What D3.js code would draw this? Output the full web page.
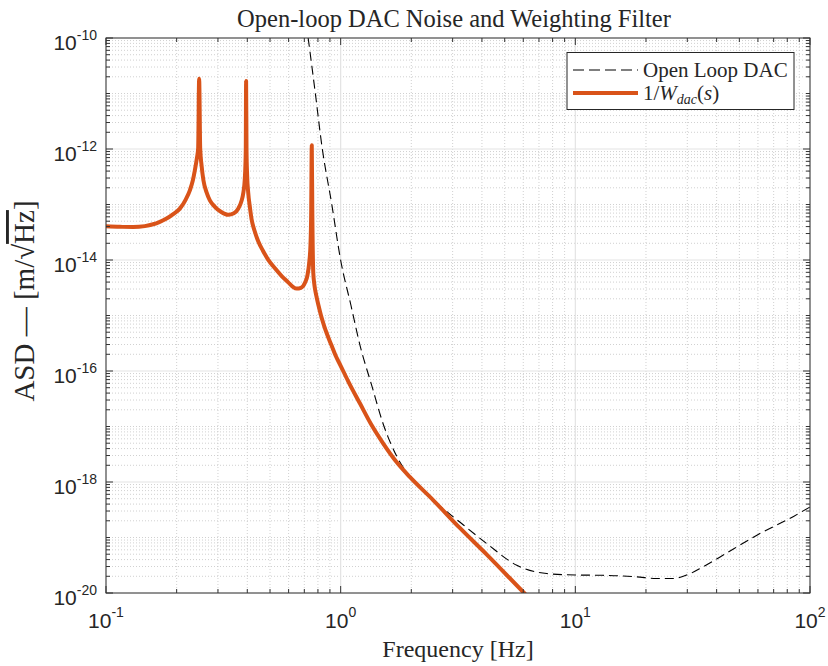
<!DOCTYPE html>
<html>
<head>
<meta charset="utf-8">
<title>Open-loop DAC Noise and Weighting Filter</title>
<script src="https://d3js.org/d3.v7.min.js"></script>
<style>
  body { margin: 0; background: #fff; }
  svg { display: block; }
</style>
</head>
<body>
<div id="chart"></div>
<script>
// open loop DAC noise (dashed)
const dacFreq = [0.70, 0.7274, 0.777, 0.8347, 0.9154, 1.0, 1.106, 1.209, 1.356, 1.519, 1.734, 1.975,
                 2.483, 3.227, 4.195, 5.63, 7.55, 9.99, 12.5, 15.5, 18.3, 22.2, 25.8, 30.9, 34.6,
                 41.4, 59.4, 85.1, 100];
const dacAsd = [3.16e-10, 9.75e-11, 1.14e-11, 1.02e-12, 1.04e-13, 9.9e-15, 1.53e-15, 2.90e-16, 5.52e-17,
                1.10e-17, 2.90e-18, 1.22e-18, 4.68e-19, 1.88e-19, 7.76e-20, 3.16e-20, 2.24e-20, 2.11e-20,
                2.09e-20, 2.04e-20, 1.95e-20, 1.82e-20, 1.82e-20, 2.24e-20, 2.88e-20, 4.47e-20, 1.10e-19,
                2.40e-19, 3.55e-19];

// 1/W_dac(s) (orange)
const wFreq = [0.1, 0.1145, 0.1305, 0.1464, 0.1588, 0.1696, 0.1811, 0.1927, 0.2064, 0.2189, 0.2277,
               0.2345, 0.2391, 0.2439, 0.2470, 0.2494, 0.2520, 0.2554, 0.2601, 0.2683, 0.2771, 0.2911,
               0.3088, 0.3317, 0.3507, 0.3659, 0.3776, 0.3851, 0.3900, 0.3927, 0.3942, 0.3954, 0.3970,
               0.3994, 0.4036, 0.4104, 0.4173, 0.4289, 0.4453, 0.4664, 0.4898, 0.5248, 0.5619, 0.5976,
               0.6260, 0.6491, 0.6771, 0.7045, 0.7219, 0.7348, 0.7435, 0.7486, 0.7531, 0.7574, 0.7642,
               0.7732, 0.7869, 0.8042, 0.8240, 0.8487, 0.8784, 0.9137, 0.9502, 1.0, 1.077, 1.209,
               1.356, 1.519, 1.734, 1.975, 2.483, 3.227, 4.195, 6.05, 7.43];
const wAsd = [4.05e-14, 3.96e-14, 3.94e-14, 4.08e-14, 4.40e-14, 4.88e-14, 5.57e-14, 6.65e-14, 8.43e-14,
              1.24e-13, 1.80e-13, 2.73e-13, 4.13e-13, 6.79e-13, 1.03e-12, 1.85e-11, 1.03e-12, 5.08e-13,
              2.73e-13, 1.66e-13, 1.19e-13, 9.10e-14, 7.39e-14, 6.52e-14, 6.93e-14, 8.38e-14, 1.14e-13,
              1.66e-13, 2.73e-13, 5.08e-13, 1.03e-12, 1.68e-11, 9.48e-13, 3.36e-13, 1.66e-13, 8.91e-14,
              5.41e-14, 3.43e-14, 2.17e-14, 1.47e-14, 1.03e-14, 7.08e-15, 5.08e-15, 3.96e-15, 3.29e-15,
              3.05e-15, 3.15e-15, 3.88e-15, 5.30e-15, 9.10e-15, 1.84e-14, 6.38e-14, 1.17e-12, 6.38e-14,
              6.00e-15, 3.50e-15, 2.31e-15, 1.53e-15, 1.01e-15, 6.65e-16, 4.40e-16, 2.90e-16, 1.92e-16,
              1.24e-16, 6.52e-17, 2.59e-17, 1.05e-17, 4.92e-18, 2.26e-18, 1.22e-18, 4.68e-19, 1.47e-19,
              4.92e-20, 1.0e-20, 4.13e-21];

const xTickExp = [-1, 0, 1, 2];
const yTickExp = [-20, -18, -16, -14, -12, -10];
const legendNames = ["Open Loop DAC", "1/W_dac(s)"];

const W = 828, H = 666;
const margin = {top: 38, right: 18, bottom: 73, left: 106};
const orange = "#D95319";
const serif = '"Liberation Serif", "DejaVu Serif", serif';
const sans = '"Liberation Sans", Arial, sans-serif';

const svg = d3.select("#chart").append("svg")
    .attr("width", W).attr("height", H);

const x = d3.scaleLog().domain([0.1, 100]).range([margin.left, W - margin.right]);
const y = d3.scaleLog().domain([1e-20, 1e-10]).range([H - margin.bottom, margin.top]);

const isPow = v => Math.abs(Math.log10(v) - Math.round(Math.log10(v))) < 1e-6;
const isMajorY = v => isPow(v) && Math.round(Math.log10(v)) % 2 === 0;

const x0 = x.range()[0], x1 = x.range()[1];
const y0 = y.range()[1], y1 = y.range()[0];

// grid
const xt = x.ticks();
const yt = y.ticks(60);
const grid = svg.append("g");

grid.selectAll(".xminor").data(xt.filter(v => !isPow(v))).enter().append("line")
    .attr("x1", d => x(d)).attr("x2", d => x(d)).attr("y1", y0).attr("y2", y1)
    .attr("stroke", "#c4c4c4").attr("stroke-width", 0.8).attr("stroke-dasharray", "1,2");
grid.selectAll(".yminor").data(yt.filter(v => !isMajorY(v))).enter().append("line")
    .attr("x1", x0).attr("x2", x1).attr("y1", d => y(d)).attr("y2", d => y(d))
    .attr("stroke", "#c4c4c4").attr("stroke-width", 0.8).attr("stroke-dasharray", "1,2");
grid.selectAll(".xmajor").data(xt.filter(isPow)).enter().append("line")
    .attr("x1", d => x(d)).attr("x2", d => x(d)).attr("y1", y0).attr("y2", y1)
    .attr("stroke", "#e3e3e3").attr("stroke-width", 1.2);
grid.selectAll(".ymajor").data(yt.filter(isMajorY)).enter().append("line")
    .attr("x1", x0).attr("x2", x1).attr("y1", d => y(d)).attr("y2", d => y(d))
    .attr("stroke", "#e3e3e3").attr("stroke-width", 1.2);

// curves
svg.append("clipPath").attr("id", "clip").append("rect")
    .attr("x", x0).attr("y", y0).attr("width", x1 - x0).attr("height", y1 - y0);

const line = d3.line().x(d => x(d[0])).y(d => y(d[1])).curve(d3.curveMonotoneX);
const plot = svg.append("g").attr("clip-path", "url(#clip)");

plot.append("path")
    .datum(dacFreq.map((f, i) => [f, dacAsd[i]]))
    .attr("d", line).attr("fill", "none")
    .attr("stroke", "#000").attr("stroke-width", 1.1).attr("stroke-dasharray", "9,5");

plot.append("path")
    .datum(wFreq.map((f, i) => [f, wAsd[i]]))
    .attr("d", line).attr("fill", "none")
    .attr("stroke", orange).attr("stroke-width", 4).attr("stroke-linejoin", "round");

// axes box + ticks
const ax = svg.append("g").attr("stroke", "#333").attr("stroke-width", 1);
ax.append("rect").attr("x", x0).attr("y", y0).attr("width", x1 - x0).attr("height", y1 - y0)
    .attr("fill", "none");

xt.forEach(v => {
    const len = isPow(v) ? 7 : 4;
    ax.append("line").attr("x1", x(v)).attr("x2", x(v)).attr("y1", y1).attr("y2", y1 - len);
    ax.append("line").attr("x1", x(v)).attr("x2", x(v)).attr("y1", y0).attr("y2", y0 + len);
});
yt.forEach(v => {
    const len = isMajorY(v) ? 7 : 4;
    ax.append("line").attr("x1", x0).attr("x2", x0 + len).attr("y1", y(v)).attr("y2", y(v));
    ax.append("line").attr("x1", x1).attr("x2", x1 - len).attr("y1", y(v)).attr("y2", y(v));
});

// tick labels
xTickExp.forEach(e => {
    const t = svg.append("text").attr("x", x(Math.pow(10, e))).attr("y", y1 + 35)
        .attr("text-anchor", "middle").style("font-family", sans).style("font-size", "21px")
        .attr("fill", "#262626");
    t.append("tspan").text("10");
    t.append("tspan").attr("dy", -11).style("font-size", "14px").text(e);
});
yTickExp.forEach(e => {
    const t = svg.append("text").attr("x", x0 - 9).attr("y", y(Math.pow(10, e)) + 12)
        .attr("text-anchor", "end").style("font-family", sans).style("font-size", "21px")
        .attr("fill", "#262626");
    t.append("tspan").text("10");
    t.append("tspan").attr("dy", -10).style("font-size", "14px").text(e);
});

// title and labels
const cx = (x0 + x1) / 2;
svg.append("text").attr("x", cx - 4).attr("y", 27).attr("text-anchor", "middle")
    .style("font-family", serif).style("font-size", "24.5px").attr("fill", "#262626")
    .text("Open-loop DAC Noise and Weighting Filter");

svg.append("text").attr("x", cx).attr("y", 657).attr("text-anchor", "middle")
    .style("font-family", serif).style("font-size", "24px").attr("fill", "#262626")
    .text("Frequency [Hz]");

const yl = svg.append("text")
    .attr("transform", `translate(34,301) rotate(-90)`)
    .attr("text-anchor", "middle").style("font-family", serif).style("font-size", "29px")
    .attr("fill", "#262626");
yl.append("tspan").text("ASD \u2014 [m/\u221A");
yl.append("tspan").style("text-decoration", "overline").text("Hz");
yl.append("tspan").text("]");

// legend
const lg = svg.append("g");
lg.append("rect").attr("x", 567).attr("y", 52.5).attr("width", 227).attr("height", 57)
    .attr("fill", "#fff").attr("stroke", "#262626").attr("stroke-width", 1);
lg.append("line").attr("x1", 573).attr("x2", 638).attr("y1", 70).attr("y2", 70)
    .attr("stroke", "#000").attr("stroke-width", 1.1).attr("stroke-dasharray", "11,5");
lg.append("line").attr("x1", 573).attr("x2", 638).attr("y1", 93).attr("y2", 93)
    .attr("stroke", orange).attr("stroke-width", 4);
lg.append("text").attr("x", 643).attr("y", 77)
    .style("font-family", serif).style("font-size", "21px").attr("fill", "#262626")
    .text(legendNames[0]);
const l2 = lg.append("text").attr("x", 643).attr("y", 100)
    .style("font-family", serif).style("font-size", "21px").attr("fill", "#262626");
l2.append("tspan").text("1/");
l2.append("tspan").style("font-style", "italic").text("W");
l2.append("tspan").attr("dy", 4).style("font-style", "italic").style("font-size", "14px").text("dac");
l2.append("tspan").attr("dy", -4).text("(");
l2.append("tspan").style("font-style", "italic").text("s");
l2.append("tspan").text(")");
</script>
</body>
</html>
